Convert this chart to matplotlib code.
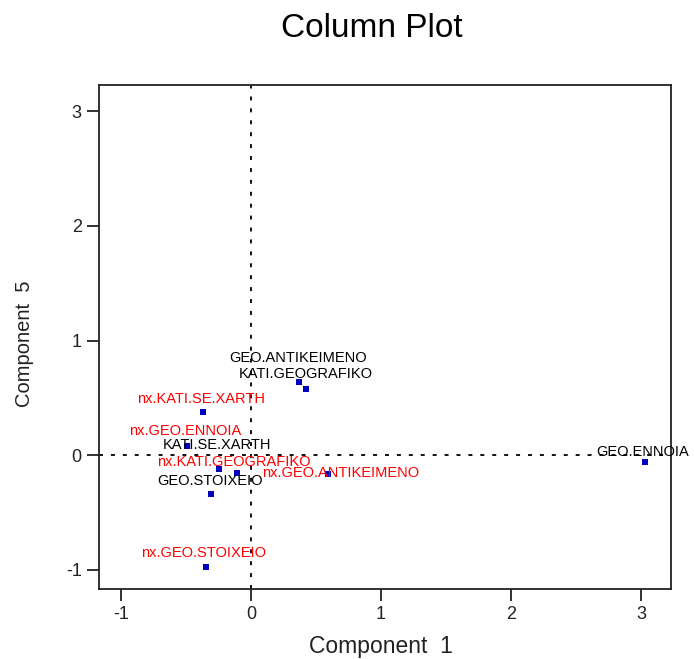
import matplotlib.pyplot as plt

# --- Data (Component 1, Component 5 scores) ---
labels = ['GEO.ANTIKEIMENO', 'KATI.GEOGRAFIKO', 'nx.KATI.SE.XARTH', 'nx.GEO.ENNOIA',
          'KATI.SE.XARTH', 'nx.KATI.GEOGRAFIKO', 'nx.GEO.ANTIKEIMENO', 'GEO.STOIXEIO',
          'nx.GEO.STOIXEIO', 'GEO.ENNOIA']
comp1 = [0.37, 0.425, -0.37, -0.49, -0.25, -0.11, 0.59, -0.31, -0.35, 3.03]
comp5 = [0.64, 0.58, 0.38, 0.08, -0.12, -0.155, -0.16, -0.34, -0.97, -0.06]
label_colors = ['black', 'black', 'red', 'red', 'black', 'red', 'red', 'black', 'red', 'black']

# label offsets in pixels (dx, dy) relative to each point
offsets = [(-1.5, 24), (-1, 15), (-2, 13), (-2, 15), (-2, 24), (-3, 11), (13, 1), (-1, 13), (-2, 14), (-2.5, 10)]

fig = plt.figure(figsize=(6.94, 6.59), dpi=100)
ax = fig.add_axes([0.1427, 0.1062, 0.8242, 0.7648])

ax.axhline(0, color='black', linestyle=(0, (2.2, 4.4)), linewidth=1.3)
ax.axvline(0, color='black', linestyle=(0, (2.2, 4.4)), linewidth=1.3)
ax.scatter(comp1, comp5, marker='s', s=25, color='#0000c0', zorder=3, linewidths=0)

for lab, x, y, c, (dx, dy) in zip(labels, comp1, comp5, label_colors, offsets):
    ax.annotate(lab, (x, y), xytext=(dx, dy), textcoords='offset pixels',
                ha='center', va='center', color=c, fontsize=10.5,
                family='Liberation Sans', annotation_clip=False, clip_on=False)

ax.set_xlim(-1.169, 3.231)
ax.set_ylim(-1.166, 3.227)
ax.set_xticks([-1, 0, 1, 2, 3])
ax.set_yticks([-1, 0, 1, 2, 3])
ax.set_xticklabels(['-1', '0', '1', '2', '3'])
ax.set_yticklabels(['-1', '0', '1', '2', '3'])
ax.tick_params(direction='out', length=8.5, width=1.3, labelsize=13, colors='#222222', pad=4)
for lbl in ax.get_xticklabels() + ax.get_yticklabels():
    lbl.set_family('Liberation Sans')
for s in ax.spines.values():
    s.set_linewidth(1.3)
    s.set_color('#222222')

ax.set_xlabel('Component  1', fontsize=16.5, family='Liberation Sans', color='#222222', va='center')
ax.xaxis.set_label_coords(0.493, -0.115)
ax.set_ylabel('Component  5', fontsize=14.5, family='Liberation Sans', color='#222222', va='center')
ax.yaxis.set_label_coords(-0.131, 0.486)
fig.text(0.536, 0.956, 'Column Plot', ha='center', va='center', fontsize=24,
         family='Liberation Sans')

plt.savefig('out.png', dpi=100)
